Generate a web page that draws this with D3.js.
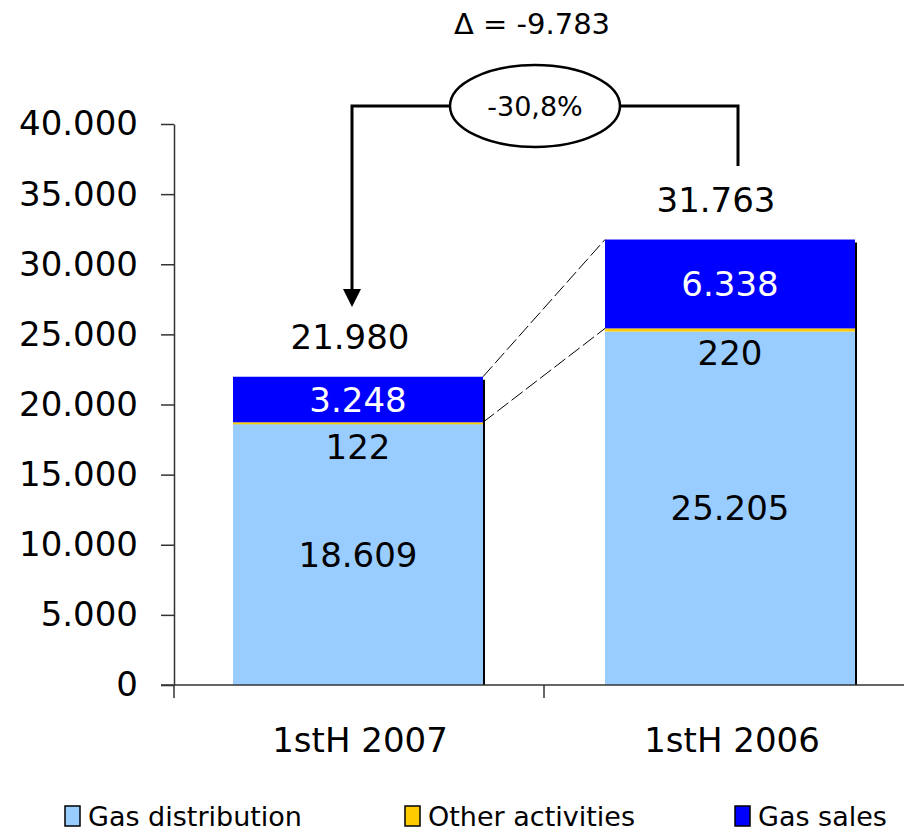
<!DOCTYPE html>
<html><head><meta charset="utf-8">
<script src="https://cdn.jsdelivr.net/npm/d3@7"></script>
<style>body{margin:0;background:#fff}svg{display:block;font-family:"DejaVu Sans",Verdana,sans-serif}</style>
</head><body><svg id="c" width="904" height="833"></svg>
<script>
const categories = ["1stH 2007", "1stH 2006"];
const seriesNames = ["Gas distribution", "Other activities", "Gas sales"];
const gasDistribution = [18609, 25205];
const otherActivities = [122, 220];
const gasSales = [3248, 6338];
const totals = [21980, 31763];
const yTicks = [0, 5000, 10000, 15000, 20000, 25000, 30000, 35000, 40000];
const deltaLabel = "\u0394 = -9.783";
const pctLabel = "-30,8%";
const colors = ["#99ccff", "#ffcc00", "#0000ff"];

const svg = d3.select("#c");
const fmt = v => d3.format(",")(v).replace(/,/g, ".");
const y = d3.scaleLinear().domain([0, 40000]).range([685, 124]);
const x = d3.scaleBand().domain(categories).range([172, 916]);
const barW = 250;

const rows = categories.map((c, i) => ({cat: c, vals: [gasDistribution[i], otherActivities[i], gasSales[i]]}));
const stack = d3.stack().keys([0, 1, 2]).value((d, k) => d.vals[k]);
const stacked = stack(rows);

// y axis
const yAxis = d3.axisLeft(y).tickValues(yTicks).tickFormat(fmt).tickSize(13).tickSizeOuter(0);
const gy = svg.append("g").attr("transform", "translate(174,0)").call(yAxis);
gy.select(".domain").attr("stroke", "#333").attr("stroke-width", 1.5);
gy.selectAll(".tick line").attr("stroke", "#333").attr("stroke-width", 1.5);
gy.selectAll(".tick text").attr("font-size", 34).attr("x", -36).attr("fill", "#000").attr("font-family", "DejaVu Sans");

// bars
const cx = c => x(c) + x.bandwidth() / 2;
stacked.forEach((s, k) => {
  svg.append("g").selectAll("rect").data(s).join("rect")
    .attr("x", d => cx(d.data.cat) - barW / 2)
    .attr("width", barW)
    .attr("y", d => y(d[1]))
    .attr("height", d => Math.max(y(d[0]) - y(d[1]), k === 1 ? 2 : 0))
    .attr("fill", colors[k]);
});
// shadow right edge
svg.append("g").selectAll("line").data(rows).join("line")
  .attr("x1", d => cx(d.cat) + barW / 2 + 1).attr("x2", d => cx(d.cat) + barW / 2 + 1)
  .attr("y1", (d, i) => y(totals[i]) + 3).attr("y2", y(0))
  .attr("stroke", "#000").attr("stroke-width", 2);

// x axis
svg.append("line").attr("x1", 161).attr("x2", 904).attr("y1", y(0)).attr("y2", y(0)).attr("stroke", "#333").attr("stroke-width", 1.5);
const bounds = [x.range()[0] + 2, x(categories[1])];
svg.append("g").selectAll("line").data(bounds).join("line")
  .attr("x1", d => d).attr("x2", d => d).attr("y1", y(0)).attr("y2", y(0) + 13)
  .attr("stroke", "#333").attr("stroke-width", 1.5);
svg.append("g").selectAll("text").data(categories).join("text")
  .attr("x", d => cx(d) + 2).attr("y", 752).attr("text-anchor", "middle")
  .attr("font-size", 34).text(d => d);

// connector dashed lines
const c0 = categories[0], c1 = categories[1];
const lev = [[totals[0], totals[1]], [gasDistribution[0] + otherActivities[0], gasDistribution[1] + otherActivities[1]]];
svg.append("g").selectAll("line").data(lev).join("line")
  .attr("x1", cx(c0) + barW / 2).attr("x2", cx(c1) - barW / 2)
  .attr("y1", d => y(d[0])).attr("y2", d => y(d[1]))
  .attr("stroke", "#000").attr("stroke-width", 1).attr("stroke-dasharray", "14,4");

// segment labels
const segLabels = [];
rows.forEach((r, i) => {
  segLabels.push({x: cx(r.cat), y: y(gasDistribution[i] / 2), t: fmt(gasDistribution[i]), c: "#000"});
  segLabels.push({x: cx(r.cat), y: y(gasDistribution[i] + otherActivities[i]) + 24, t: fmt(otherActivities[i]), c: "#000"});
  segLabels.push({x: cx(r.cat), y: y(gasDistribution[i] + otherActivities[i] + gasSales[i] / 2), t: fmt(gasSales[i]), c: "#fff"});
});
svg.append("g").selectAll("text").data(segLabels).join("text")
  .attr("x", d => d.x).attr("y", d => d.y).attr("dy", "0.36em").attr("text-anchor", "middle")
  .attr("font-size", 34).attr("fill", d => d.c).text(d => d.t);

// totals
svg.append("g").selectAll("text").data(rows).join("text")
  .attr("x", (d, i) => cx(d.cat) - (i === 0 ? 8 : 14)).attr("y", (d, i) => y(totals[i]) - 28)
  .attr("text-anchor", "middle").attr("font-size", 34).text((d, i) => fmt(totals[i]));

// annotation
svg.append("text").attr("x", 532).attr("y", 34).attr("text-anchor", "middle").attr("font-size", 29).text(deltaLabel);
const ay = 106;
svg.append("path").attr("d", `M352,292 V${ay} H450 M620,${ay} H738 V166`).attr("fill", "none").attr("stroke", "#000").attr("stroke-width", 3);
svg.append("path").attr("d", "M343,289 L361,289 L352,307 Z").attr("fill", "#000");
svg.append("ellipse").attr("cx", 535).attr("cy", ay).attr("rx", 85).attr("ry", 41).attr("fill", "#fff").attr("stroke", "#000").attr("stroke-width", 2.5);
svg.append("text").attr("x", 535).attr("y", ay).attr("dy", "0.36em").attr("text-anchor", "middle").attr("font-size", 27).text(pctLabel);

// legend
const legX = [65, 405, 735];
const lg = svg.append("g").selectAll("g").data(seriesNames).join("g")
  .attr("transform", (d, i) => `translate(${legX[i]},806)`);
lg.append("rect").attr("width", 15).attr("height", 20).attr("fill", (d, i) => colors[i]).attr("stroke", "#000").attr("stroke-width", 1.5);
lg.append("text").attr("x", 23).attr("y", 10).attr("dy", "0.36em").attr("font-size", 27).text(d => d);
</script></body></html>
